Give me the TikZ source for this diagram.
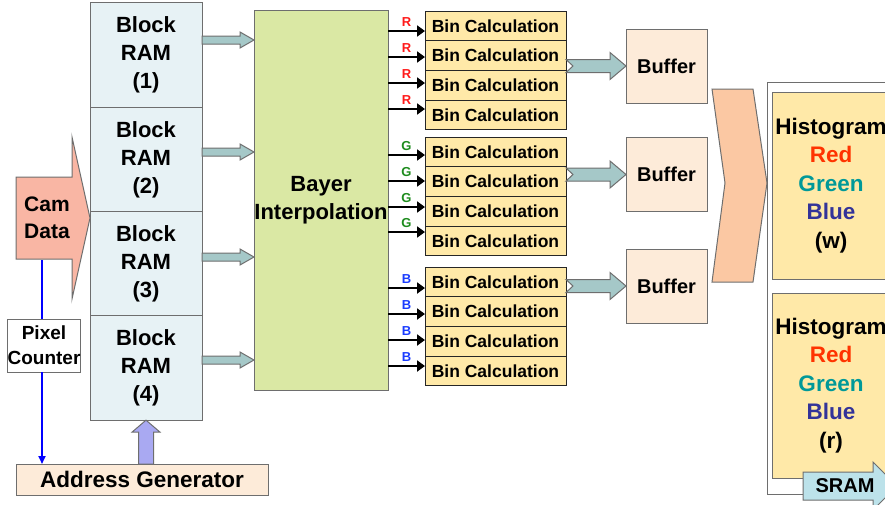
\documentclass[tikz,border=0pt]{standalone}
\usepackage{fontspec}
\setmainfont{Liberation Sans}
\usepackage{xcolor}
\usetikzlibrary{
	calc,
	arrows.meta,
	positioning
	}
\definecolor{gris-trait}{HTML}{6E6E6E}
\definecolor{bleu-ram}{HTML}{E7F2F5}
\definecolor{vert-bayer}{HTML}{DAE8A4}
\definecolor{jaune-bin}{HTML}{FFE9A8}
\definecolor{peche}{HTML}{FDEBD9}
\definecolor{orange-chevron}{HTML}{FBC8A3}
\definecolor{saumon}{HTML}{F9B6A4}
\definecolor{bleu-fleche}{HTML}{A5C8C8}
\definecolor{bleu-sram}{HTML}{BCE2EA}
\definecolor{violet}{HTML}{A9A9F2}
\definecolor{lettre-r}{HTML}{FF1A1A}
\definecolor{lettre-g}{HTML}{1E8C1E}
\definecolor{lettre-b}{HTML}{1A3CFF}
\definecolor{hist-r}{HTML}{FF3300}
\definecolor{hist-g}{HTML}{009999}
\definecolor{hist-b}{HTML}{333399}
\tikzstyle{trait}=[draw=gris-trait,line width=1pt]
\tikzstyle{bloc-ram}=[trait,fill=bleu-ram,outer sep=0pt,minimum width=112pt,minimum height=104.3pt,align=center,font=\fontsize{22}{28}\selectfont\bfseries]
\tikzstyle{bloc-bin}=[draw=black!85,line width=1pt,fill=jaune-bin,outer sep=0pt,minimum width=141pt,minimum height=29.7pt,inner sep=0pt,font=\fontsize{17.5}{18}\selectfont\bfseries]
\tikzstyle{bloc-tampon}=[trait,fill=peche,outer sep=0pt,minimum width=81pt,minimum height=74pt,font=\fontsize{20}{22}\selectfont\bfseries]
\tikzstyle{bloc-hist}=[trait,fill=jaune-bin,outer sep=0pt,minimum width=113pt,align=center,font=\fontsize{22.5}{28.5}\selectfont\bfseries]
\tikzstyle{fleche-bin}=[line width=2.6pt,-{Triangle[length=8pt,width=11pt]}]
\tikzstyle{ligne-bleue}=[blue,line width=2.2pt]
\tikzstyle{lettre}=[above=2pt,inner sep=1pt,font=\fontsize{13}{13}\selectfont\bfseries]
% #1 style, #2 depart, #3 pointe, #4 demi-corps, #5 demi-tete, #6 longueur tete, #7 encoche
\newcommand{\grossefleche}[7]{%
	\coordinate (gf-b) at ($(#3)!#6!(#2)$);
	\draw[#1] ($(#2)!#4!90:(#3)$) -- ($(gf-b)!#4!90:(#3)$) -- ($(gf-b)!#5!90:(#3)$) -- (#3)
		-- ($(gf-b)!#5!-90:(#3)$) -- ($(gf-b)!#4!-90:(#3)$) -- ($(#2)!#4!-90:(#3)$)
		-- ($(#2)!#7!(#3)$) -- cycle;}

\begin{document}
\begin{tikzpicture}[x=1pt,y=-1pt]
\useasboundingbox (0,0) rectangle (885,504);
\clip (0,0) rectangle (885,504);

\node[bloc-ram] (ram1) at (146,55.1) {Block\\RAM\\(1)};
\node[bloc-ram,below=0pt of ram1] (ram2) {Block\\RAM\\(2)};
\node[bloc-ram,below=0pt of ram2] (ram3) {Block\\RAM\\(3)};
\node[bloc-ram,below=0pt of ram3] (ram4) {Block\\RAM\\(4)};

\node[trait,fill=vert-bayer,outer sep=0pt,inner sep=0pt,minimum width=134pt,minimum height=380pt,align=center,
	font=\fontsize{22}{28}\selectfont\bfseries] (bayer) at (321,200) {Bayer\\Interpolation};

\foreach \i/\y in {1/40,2/152,3/257,4/360}{
	\coordinate (ra\i) at (ram\i.east |- 0,\y);
	\coordinate (ba\i) at (bayer.west |- 0,\y);
	\grossefleche{trait,fill=bleu-fleche}{ra\i}{ba\i}{4pt}{8pt}{14pt}{0pt}
}

\node[bloc-bin] (binR1) at (495.5,25.85) {Bin Calculation};
\node[bloc-bin,below=0pt of binR1] (binR2) {Bin Calculation};
\node[bloc-bin,below=0pt of binR2] (binR3) {Bin Calculation};
\node[bloc-bin,below=0pt of binR3] (binR4) {Bin Calculation};
\node[bloc-bin] (binG1) at (495.5,151.85) {Bin Calculation};
\node[bloc-bin,below=0pt of binG1] (binG2) {Bin Calculation};
\node[bloc-bin,below=0pt of binG2] (binG3) {Bin Calculation};
\node[bloc-bin,below=0pt of binG3] (binG4) {Bin Calculation};
\node[bloc-bin] (binB1) at (495.5,281.85) {Bin Calculation};
\node[bloc-bin,below=0pt of binB1] (binB2) {Bin Calculation};
\node[bloc-bin,below=0pt of binB2] (binB3) {Bin Calculation};
\node[bloc-bin,below=0pt of binB3] (binB4) {Bin Calculation};

\foreach \y in {31,57,83,109}
	\draw[fleche-bin] (bayer.east |- 0,\y) -- node[lettre,text=lettre-r] {R} (binR1.west |- 0,\y);
\foreach \y in {155,181,207,232}
	\draw[fleche-bin] (bayer.east |- 0,\y) -- node[lettre,text=lettre-g] {G} (binG1.west |- 0,\y);
\foreach \y in {288,314,340,366}
	\draw[fleche-bin] (bayer.east |- 0,\y) -- node[lettre,text=lettre-b] {B} (binB1.west |- 0,\y);

\node[bloc-tampon] (buf1) at (666.5,66) {Buffer};
\node[bloc-tampon] (buf2) at (666.5,174.5) {Buffer};
\node[bloc-tampon] (buf3) at (666.5,286) {Buffer};

\coordinate (bs1) at (binR1.east |- buf1.west);
\coordinate (bs2) at (binG1.east |- buf2.west);
\coordinate (bs3) at (binB1.east |- buf3.west);
\grossefleche{trait,fill=bleu-fleche}{bs1}{buf1.west}{6.5pt}{13.5pt}{16pt}{7pt}
\grossefleche{trait,fill=bleu-fleche}{bs2}{buf2.west}{6.5pt}{13.5pt}{16pt}{7pt}
\grossefleche{trait,fill=bleu-fleche}{bs3}{buf3.west}{6.5pt}{13.5pt}{16pt}{7pt}

\draw[trait,fill=orange-chevron] (712,89) -- (753,89) -- (767,183) -- (753,282) -- (712,282) -- (725,183) -- cycle;

\draw[trait,fill=white] (767,82) rectangle (897,494);
\node[bloc-hist,minimum height=187pt] (histw) at (831,185.5)
	{Histogram\\\textcolor{hist-r}{Red}\\\textcolor{hist-g}{Green}\\\textcolor{hist-b}{Blue}\\(w)};
\node[bloc-hist,minimum height=185pt] (histr) at (831,385.5)
	{Histogram\\\textcolor{hist-r}{Red}\\\textcolor{hist-g}{Green}\\\textcolor{hist-b}{Blue}\\(r)};

\coordinate (sram-a) at (803,486);
\coordinate (sram-b) at (897,486);
\grossefleche{trait,fill=bleu-sram}{sram-a}{sram-b}{14pt}{24pt}{24pt}{0pt}
\node[font=\fontsize{20}{20}\selectfont\bfseries] (sram) at (845,486) {SRAM};

\coordinate (cam-a) at (16,218);
\coordinate (cam-b) at (90,218);
\grossefleche{trait,fill=saumon}{cam-a}{cam-b}{41pt}{81pt}{18pt}{0pt}
\node[align=center,font=\fontsize{21}{27}\selectfont\bfseries] (cam) at (47,218) {Cam\\Data};

\node[trait,fill=white,outer sep=0pt,minimum width=72pt,minimum height=53pt,inner sep=0pt,align=center,
	font=\fontsize{19}{25}\selectfont\bfseries] (compteur) at (44,345.5) {Pixel\\Counter};
\node[trait,fill=peche,outer sep=0pt,minimum width=252pt,minimum height=31pt,
	font=\fontsize{22.5}{22}\selectfont\bfseries] (adresse) at (142,479.5) {Address Generator};

\coordinate (cam-bas) at (42,260);
\draw[ligne-bleue] (cam-bas) -- (cam-bas |- compteur.north);
\draw[ligne-bleue,-{Triangle[length=8pt,width=7pt]}] (cam-bas |- compteur.south) -- (cam-bas |- adresse.north);

\coordinate (va) at (ram4.south |- adresse.north);
\grossefleche{trait,fill=violet}{va}{ram4.south}{7.5pt}{14pt}{12pt}{0pt}
\end{tikzpicture}
\end{document}
